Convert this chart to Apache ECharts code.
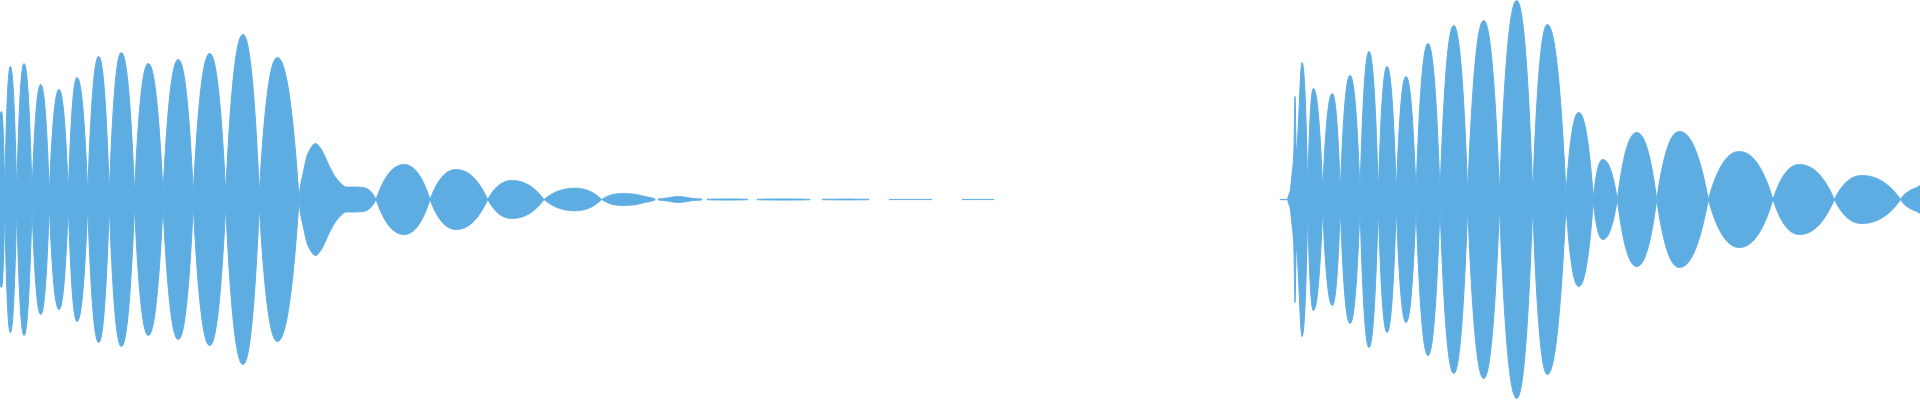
<!DOCTYPE html>
<html>
<head>
<meta charset="utf-8">
<script src="https://cdn.jsdelivr.net/npm/echarts@6/dist/echarts.min.js"></script>
<style>
html,body{margin:0;padding:0;background:#ffffff;}
#chart{width:1920px;height:400px;}
</style>
</head>
<body>
<div id="chart"></div>
<script>
// Waveform envelope: each lobe is a list of [time, amplitude] points.
// First burst: dense attack lobes
const burst1Lobes = [
  [[0,85],[1.5,88],[4.7,6.5]],
  [[4.7,6.5],[10.3,133],[16.7,6.5]],
  [[16.7,6.5],[24,136],[32,6.5]],
  [[32,6.5],[40.7,115],[49.3,6.5]],
  [[49.3,6.5],[59,110],[68.3,6.5]],
  [[68.3,6.5],[77,122],[87.7,6.5]],
  [[87.7,6.5],[98.7,143],[109.3,6.5]],
  [[109.3,6.5],[121.3,147],[134.5,6.5]],
  [[134.5,6.5],[148.3,136],[163,6.5]],
  [[163,6.5],[178.3,140],[193.3,6.5]],
  [[193.3,6.5],[209.7,146],[225.7,6.5]],
  [[225.7,6.5],[243,165],[259.3,6.5]],
  [[259.3,6.5],[277.3,142],[299,1]]
];
// First burst: decay lobes
const burst1Decay = [
  [[299,1],[303.3,27],[308.3,47],[315.7,56],[320,52],[330,32],[335,23],[340,17],[346,12.5],[355,12.5],[363,12],[376,0]],
  [[376,0],[404,35],[430,0]],
  [[430,0],[456,30],[487.7,0]],
  [[487.7,0],[511.7,19],[544,0]],
  [[544,0],[575,11.3],[601.7,0]],
  [[601.7,0],[622,6],[633,5.5],[645,3],[655,0.5]]
];
// Near-silent tail dashes
const tailDashes = [
  [[658.3,0.5],[665,1.2],[673,2.5],[678,3],[684,2.5],[692,1.2],[701.7,0.5]],
  [[707,0.2],[727,0.6],[747.7,0.2]],
  [[757,0.2],[783,0.6],[810,0.2]],
  [[822,0.2],[845,0.4],[869,0.2]],
  [[889,0.1],[932,0.1]],
  [[962,0.1],[994,0.1]],
  [[1280,0.1],[1288,0.3]]
];
// Second burst: dense lobes
const burst2Lobes = [
  [[1288,2],[1290,8],[1292,25],[1293.8,45],[1295,103],[1296.3,48],[1302,137],[1307.7,10]],
  [[1307.7,10],[1313.3,111],[1322.7,9]],
  [[1322.7,9],[1332.3,106],[1340.3,8]],
  [[1340.3,8],[1350,124],[1360,7]],
  [[1360,7],[1369,148],[1378.3,7]],
  [[1378.3,7],[1387,133],[1396.3,7]],
  [[1396.3,7],[1406,123],[1416,7]],
  [[1416,7],[1428,156],[1440,7]],
  [[1440,7],[1453.7,174],[1467.7,7]],
  [[1467.7,7],[1483.7,179],[1499.5,7]],
  [[1499.5,7],[1516.7,199],[1532.7,7]],
  [[1532.7,7],[1547.3,175],[1566,6]],
  [[1566,6],[1578.7,87],[1593.3,2]]
];
// Second burst: decay lobes
const burst2Decay = [
  [[1593.3,2],[1602.7,40],[1617.3,0]],
  [[1617.3,0],[1636.7,67],[1656.7,0]],
  [[1656.7,0],[1679.3,68],[1708.3,0]],
  [[1708.3,0],[1739.3,48],[1773,0]],
  [[1773,0],[1799.3,35],[1834.3,0]],
  [[1834.3,0],[1861.7,24],[1900.7,0]],
  [[1900.7,0],[1910,9],[1920,14]]
];

const color = '#5dade2';
const segments = [].concat(burst1Lobes, burst1Decay, tailDashes, burst2Lobes, burst2Decay);

// Shape-preserving cubic Hermite tangents (rendering helper, no new data values)
function tangents(pts) {
  const n = pts.length, d = [], h = [], m = new Array(n).fill(0);
  for (let i = 0; i < n - 1; i++) {
    h.push(pts[i + 1][0] - pts[i][0]);
    d.push((pts[i + 1][1] - pts[i][1]) / h[i]);
  }
  if (n === 2) { m[0] = d[0]; m[1] = d[0]; return m; }
  for (let i = 1; i < n - 1; i++) {
    if (d[i - 1] * d[i] <= 0) { m[i] = 0; continue; }
    const w1 = 2 * h[i] + h[i - 1], w2 = h[i] + 2 * h[i - 1];
    m[i] = (w1 + w2) / (w1 / d[i - 1] + w2 / d[i]);
  }
  const k = 2.3;
  m[0] = k * d[0] - 0.5 * m[1];
  if (m[0] * d[0] < 0) m[0] = 0;
  m[n - 1] = k * d[n - 2] - 0.5 * m[n - 2];
  if (m[n - 1] * d[n - 2] < 0) m[n - 1] = 0;
  return m;
}

function renderLobe(params, api) {
  const pts = segments[params.dataIndex];
  const m = tangents(pts);
  const upper = [], lower = [];
  for (let i = 0; i < pts.length - 1; i++) {
    const x0 = pts[i][0], x1 = pts[i + 1][0], y0 = pts[i][1], y1 = pts[i + 1][1];
    const dx = x1 - x0;
    const steps = Math.max(4, Math.ceil(api.size([dx, 0])[0] * 2));
    for (let s = (i === 0 ? 0 : 1); s <= steps; s++) {
      const t = s / steps, t2 = t * t, t3 = t2 * t;
      const y = (2 * t3 - 3 * t2 + 1) * y0 + (t3 - 2 * t2 + t) * dx * m[i] +
                (-2 * t3 + 3 * t2) * y1 + (t3 - t2) * dx * m[i + 1];
      const x = x0 + t * dx;
      upper.push(api.coord([x, y]));
      lower.push(api.coord([x, -y]));
    }
  }
  return {
    type: 'polygon',
    shape: { points: upper.concat(lower.reverse()) },
    style: { fill: color, stroke: color, lineWidth: 1 },
    silent: true
  };
}

const chart = echarts.init(document.getElementById('chart'), null, { renderer: 'canvas' });
chart.setOption({
  backgroundColor: '#ffffff',
  animation: false,
  grid: { left: 0, right: 0, top: 0, bottom: 0 },
  xAxis: { type: 'value', min: 0, max: 1920, show: false },
  yAxis: { type: 'value', min: -200.5, max: 199.5, show: false },
  series: [{
    type: 'custom',
    renderItem: renderLobe,
    data: segments.map(seg => [seg[0][0], seg[seg.length - 1][0],
      Math.max(...seg.map(p => p[1])), -Math.max(...seg.map(p => p[1]))]),
    encode: { x: [0, 1], y: [2, 3] },
    clip: true,
    silent: true,
    animation: false
  }]
});
</script>
</body>
</html>
